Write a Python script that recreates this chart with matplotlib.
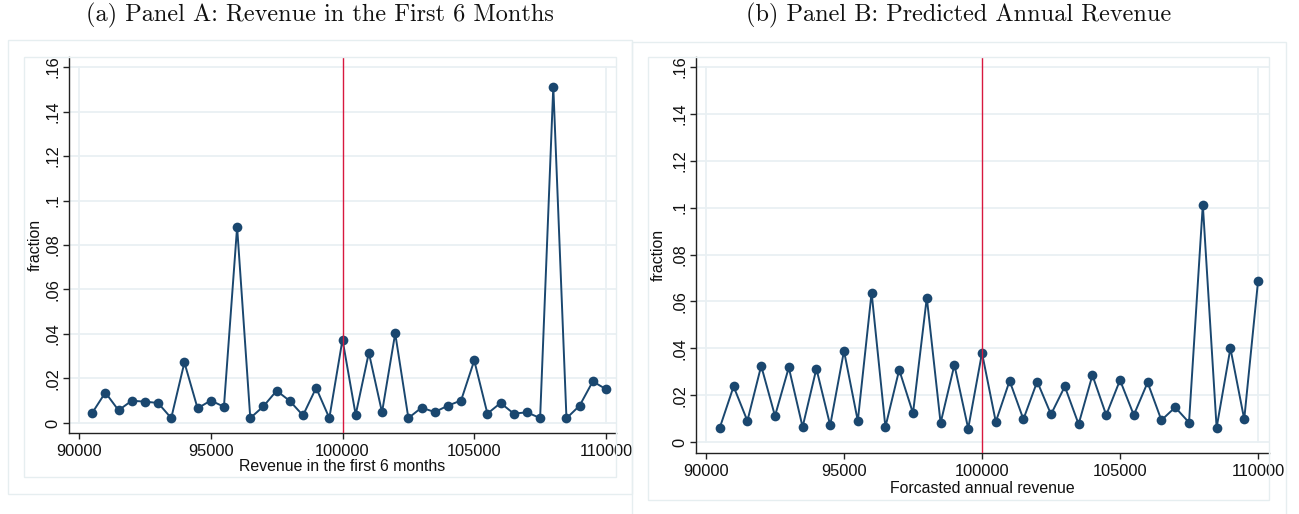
import matplotlib
matplotlib.use("Agg")
import matplotlib.pyplot as plt
from matplotlib.patches import Rectangle

# ---- data ----
revenue_bins = [90500, 91000, 91500, 92000, 92500, 93000, 93500, 94000, 94500, 95000,
                95500, 96000, 96500, 97000, 97500, 98000, 98500, 99000, 99500, 100000,
                100500, 101000, 101500, 102000, 102500, 103000, 103500, 104000, 104500, 105000,
                105500, 106000, 106500, 107000, 107500, 108000, 108500, 109000, 109500, 110000]

frac_first6 = [0.0045, 0.0137, 0.0057, 0.0100, 0.0096, 0.0090, 0.0022, 0.0272, 0.0066, 0.0101,
               0.0073, 0.0881, 0.0022, 0.0075, 0.0145, 0.0099, 0.0034, 0.0158, 0.0022, 0.0375,
               0.0037, 0.0316, 0.0048, 0.0403, 0.0022, 0.0069, 0.0049, 0.0078, 0.0101, 0.0281,
               0.0042, 0.0090, 0.0042, 0.0048, 0.0022, 0.1512, 0.0021, 0.0078, 0.0187, 0.0152]

frac_predicted = [0.0061, 0.0237, 0.0090, 0.0325, 0.0111, 0.0318, 0.0064, 0.0313, 0.0071, 0.0389,
                  0.0090, 0.0637, 0.0064, 0.0308, 0.0123, 0.0616, 0.0081, 0.0329, 0.0057, 0.0380,
                  0.0086, 0.0261, 0.0097, 0.0258, 0.0118, 0.0237, 0.0076, 0.0285, 0.0115, 0.0264,
                  0.0115, 0.0254, 0.0093, 0.0148, 0.0083, 0.1013, 0.0061, 0.0400, 0.0097, 0.0685]

x_ticks = [90000, 95000, 100000, 105000, 110000]
x_ticklabels = ["90000", "95000", "100000", "105000", "110000"]
y_ticks = [0, 0.02, 0.04, 0.06, 0.08, 0.10, 0.12, 0.14, 0.16]
y_ticklabels = ["0", ".02", ".04", ".06", ".08", ".1", ".12", ".14", ".16"]
threshold = 100000

titles = ["(a) Panel A: Revenue in the First 6 Months",
          "(b) Panel B: Predicted Annual Revenue"]
xlabels = ["Revenue in the first 6 months", "Forcasted annual revenue"]
ylabel = "fraction"

# ---- style ----
W, H = 1299, 514
NAVY = "#1a476f"
RED = "#d8193f"
GRID = "#e9f0f3"
BOX = "#e6eef0"
SANS = "Liberation Sans"
TICK_FS = 11.8
LAB_FS = 11.4

fig = plt.figure(figsize=(W / 100, H / 100), dpi=100)

def fx(px):
    return px / W

def fy(py):
    return 1 - py / H

def add_box(x0, y0, x1, y1):
    fig.patches.append(Rectangle((fx(x0), fy(y1)), fx(x1) - fx(x0), fy(y0) - fy(y1),
                                 transform=fig.transFigure, fill=False,
                                 edgecolor=BOX, lw=1.0, zorder=0))

# outer & inner boxes (graph regions)
add_box(8, 40, 632, 494)
add_box(24, 57, 616, 477)
add_box(632, 42, 1286, 530)
add_box(648, 57, 1269, 500)

panels = [
    dict(ax=(69, 57, 616, 433), xlim=(89620, 110380), ylim=(-0.0045, 0.1645),
         data=frac_first6, ylab_x=-0.062, xlab_y=-0.0904, title_x=320),
    dict(ax=(696, 57, 1269, 453), xlim=(89638, 110398), ylim=(-0.0047, 0.1643),
         data=frac_predicted, ylab_x=-0.066, xlab_y=-0.0884, title_x=959),
]

for i, p in enumerate(panels):
    l, t, r, b = p["ax"]
    ax = fig.add_axes([fx(l), fy(b), fx(r) - fx(l), fy(t) - fy(b)])
    ax.set_xlim(*p["xlim"])
    ax.set_ylim(*p["ylim"])
    ax.patch.set_alpha(0)
    for s in ["top", "right"]:
        ax.spines[s].set_visible(False)
    for s in ["left", "bottom"]:
        ax.spines[s].set_color("#222222")
        ax.spines[s].set_linewidth(1.0)

    # gridlines & plot region outline
    for yv in y_ticks:
        ax.axhline(yv, color=GRID, lw=1.3, zorder=0)
    for xv in (x_ticks[0], x_ticks[-1]):
        ax.plot([xv, xv], [y_ticks[0], y_ticks[-1]], color=GRID, lw=1.3, zorder=0)

    ax.plot(revenue_bins, p["data"], color=NAVY, lw=1.4, marker="o",
            markersize=7.0, markeredgewidth=0, zorder=3)
    ax.axvline(threshold, color=RED, lw=1.0, zorder=4)

    ax.set_xticks(x_ticks)
    ax.set_xticklabels(x_ticklabels, fontfamily=SANS, fontsize=TICK_FS, color="#111111")
    ax.set_yticks(y_ticks)
    ax.set_yticklabels(y_ticklabels, fontfamily=SANS, fontsize=TICK_FS, color="#111111",
                       rotation=90, va="center")
    ax.tick_params(axis="x", length=4, width=1.0, pad=4.0, color="#222222")
    ax.tick_params(axis="y", length=4.5, width=1.0, pad=1.5, color="#222222")

    ax.set_xlabel(xlabels[i], fontfamily=SANS, fontsize=LAB_FS, color="#111111")
    ax.xaxis.set_label_coords((threshold - p["xlim"][0]) / (p["xlim"][1] - p["xlim"][0]), p["xlab_y"])
    ax.xaxis.label.set_va("center")
    ax.set_ylabel(ylabel, fontfamily=SANS, fontsize=LAB_FS, color="#111111")
    ax.yaxis.set_label_coords(p["ylab_x"], 0.5)
    ax.yaxis.label.set_va("center")

    fig.text(fx(p["title_x"]), fy(15), titles[i], family="cmr10", fontsize=17.5,
             ha="center", va="center", color="#111111")

fig.savefig("out.png", dpi=100, facecolor="white")
